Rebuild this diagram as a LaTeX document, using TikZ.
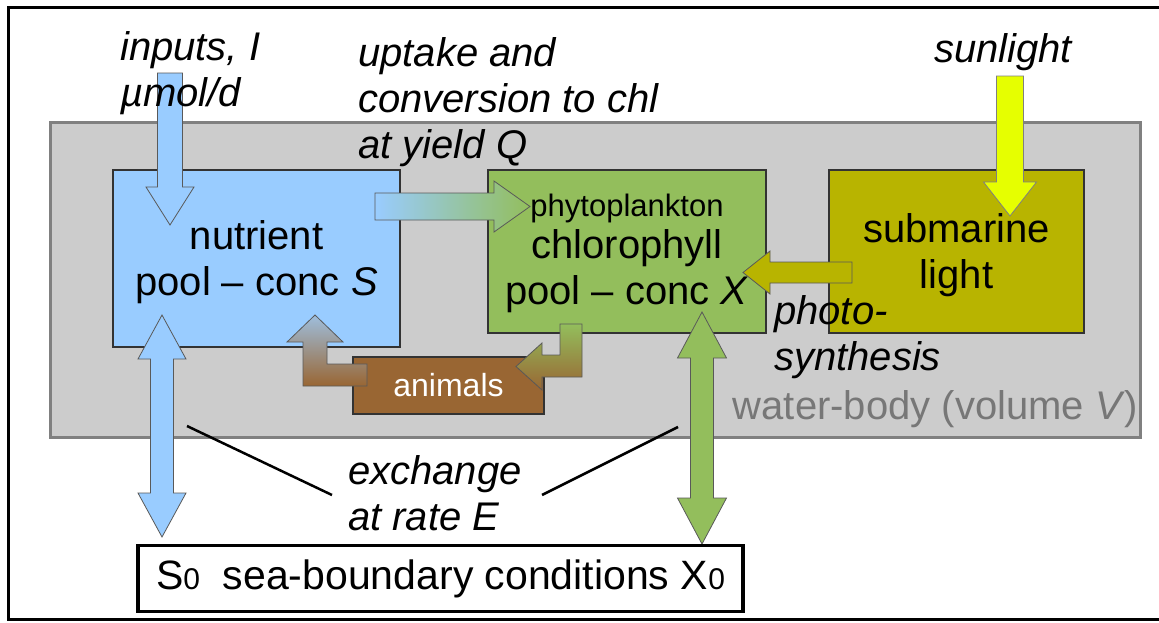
\documentclass[tikz,border=0pt]{standalone}
\usepackage{fontspec}
\setmainfont{Liberation Sans}
\usepackage{tikz}
\usetikzlibrary{positioning,calc}
\definecolor{nutrientblue}{HTML}{99CCFF}
\definecolor{chlgreen}{HTML}{93BE5C}
\definecolor{lightolive}{RGB}{184,180,0}
\definecolor{animalbrown}{HTML}{996633}
\definecolor{sunyellow}{HTML}{E6FF00}
\definecolor{grazeblue}{HTML}{9EBEDD}
\definecolor{waterfill}{HTML}{CCCCCC}
\definecolor{waterline}{HTML}{808080}
\definecolor{watertext}{HTML}{777777}
\newcommand{\bigtxt}{\fontsize{40}{46}\selectfont}
\newcommand{\midtxt}{\fontsize{31}{34}\selectfont}
\newcommand{\zerosub}{{\fontsize{30}{30}\selectfont 0}}
% fat arrow: [style]{tail}{tip}{shaft half}{head half}{head length}
\newcommand{\blockarrow}[6][]{%
  \coordinate (hb) at ($(#3)!#6!(#2)$);
  \path[fatarrow,#1] ($(#2)!#4!90:(#3)$) -- ($(hb)!#4!90:(#3)$) -- ($(hb)!#5!90:(#3)$) -- (#3)
    -- ($(hb)!#5!-90:(#3)$) -- ($(hb)!#4!-90:(#3)$) -- ($(#2)!#4!-90:(#3)$) -- cycle;}
% fat arrow with a head at both ends
\newcommand{\twowayarrow}[6][]{%
  \coordinate (hbA) at ($(#2)!#6!(#3)$);
  \coordinate (hbB) at ($(#3)!#6!(#2)$);
  \path[fatarrow,#1] (#2) -- ($(hbA)!#5!90:(#3)$) -- ($(hbA)!#4!90:(#3)$) -- ($(hbB)!#4!90:(#3)$)
    -- ($(hbB)!#5!90:(#3)$) -- (#3) -- ($(hbB)!#5!-90:(#3)$) -- ($(hbB)!#4!-90:(#3)$)
    -- ($(hbA)!#4!-90:(#3)$) -- ($(hbA)!#5!-90:(#3)$) -- cycle;}
\tikzset{
    pool/.style={rectangle, draw=black!80, line width=1.2pt, inner sep=0pt, align=center, font=\bigtxt},
    waterbody/.style={rectangle, draw=waterline, fill=waterfill, line width=3pt, inner sep=0pt},
    seabox/.style={rectangle, draw=black, fill=white, line width=3.5pt, inner sep=0pt, font=\fontsize{41}{46}\selectfont},
    fatarrow/.style={draw=black!65, line width=0.8pt, line join=miter},
    tag/.style={anchor=base west, inner sep=0pt, align=left, font=\bigtxt\itshape},
    exline/.style={line width=2.5pt}
}
\begin{document}
\begin{tikzpicture}[x=1pt, y=-1pt]
\useasboundingbox (0,0) rectangle (1159,622);

% frame and water body
\draw[line width=3pt] (8,7) rectangle (1166,619);
\node[waterbody, minimum width=1090pt, minimum height=315pt] (water) at (595,279.5) {};

% pools
\node[pool, fill=nutrientblue, minimum width=287pt, minimum height=177pt] (nutrient) at (256.5,258.5) {\rule{0pt}{37pt}nutrient\\pool \textendash{} conc \textit{S}};
\node[pool, fill=chlgreen, minimum width=278pt, minimum height=163pt] (chl) at (627,251.5) {\rule{0pt}{26pt}{\midtxt phytoplankton}\\[-4pt]chlorophyll\\pool \textendash{} conc \textit{X}};
\node[pool, fill=lightolive, minimum width=255pt, minimum height=163pt] (sublight) at (956.5,251.5) {\rule{0pt}{37pt}submarine\\light};
\node[pool, fill=animalbrown, text=white, font=\fontsize{32}{36}\selectfont, minimum width=191pt, minimum height=57pt] (animals) at (448.5,385.5) {animals};

% arrow ends
\coordinate (in0) at (170,73);
\coordinate (in1) at (170,225);
\coordinate (up0) at (375,206.5);
\coordinate (up1) at (530,206.5);
\coordinate (sun0) at (1010,76);
\coordinate (sun1) at (1010,216);
\coordinate (ph0) at (852,272.5);
\coordinate (ph1) at (743,272.5);
\coordinate (exS0) at (162,315);
\coordinate (exS1) at (162,537);
\coordinate (exX0) at (702,312);
\coordinate (exX1) at (702,544);

% uptake
\blockarrow[left color=nutrientblue, right color=chlgreen]{up0}{up1}{13.5pt}{25.5pt}{36pt}
% grazing and recycling
\path[fatarrow, top color=chlgreen, bottom color=animalbrown]
  (560,324) -- (582,324) -- (582,377) -- (542,377) -- (542,390) -- (516,366.5)
  -- (542,343) -- (542,355) -- (560,355) -- cycle;
\path[fatarrow, top color=grazeblue, bottom color=animalbrown]
  (367,364) -- (367,386) -- (303,386) -- (303,342) -- (287,342) -- (315,315)
  -- (343,342) -- (327,342) -- (327,364) -- cycle;
% inputs, sunlight, photosynthesis
\blockarrow[fill=nutrientblue]{in0}{in1}{12.5pt}{24pt}{38pt}
\blockarrow[fill=sunyellow, draw=black!50]{sun0}{sun1}{13.5pt}{26.5pt}{34pt}
\blockarrow[fill=lightolive]{ph0}{ph1}{10.5pt}{21.5pt}{27pt}
% exchange with the sea
\twowayarrow[fill=nutrientblue]{exS0}{exS1}{11.5pt}{24pt}{44pt}
\twowayarrow[fill=chlgreen]{exX0}{exX1}{11.5pt}{24.5pt}{46pt}

\node[seabox, minimum width=605pt, minimum height=66pt] (sea) at (440.5,578.5) {S\zerosub\ \ sea-boundary conditions X\zerosub};

% labels
\node[tag] (inputs) at (120,106) {inputs, I\\µmol/d};
\node[tag] (uptake) at (358,158) {uptake and\\conversion to chl\\at yield Q};
\node[tag] (sunlight) at (934,62) {sunlight};
\node[tag] (photo) at (774,370) {photo-\\synthesis};
\node[tag] (exchange) at (348,530) {exchange\\at rate E};
\node[anchor=base east, inner sep=0pt, font=\bigtxt, text=watertext] (waterlabel) at ($(water.south east)+(-3,-19)$) {water-body (volume \textit{V})};

% exchange pointers
\coordinate (exl) at (187,426);
\coordinate (exr) at (678,427);
\draw[exline] (exl) -- ($(exchange.base west)+(-16,-35)$);
\draw[exline] (exr) -- ($(exchange.base west)+(194,-35)$);

\end{tikzpicture}
\end{document}
